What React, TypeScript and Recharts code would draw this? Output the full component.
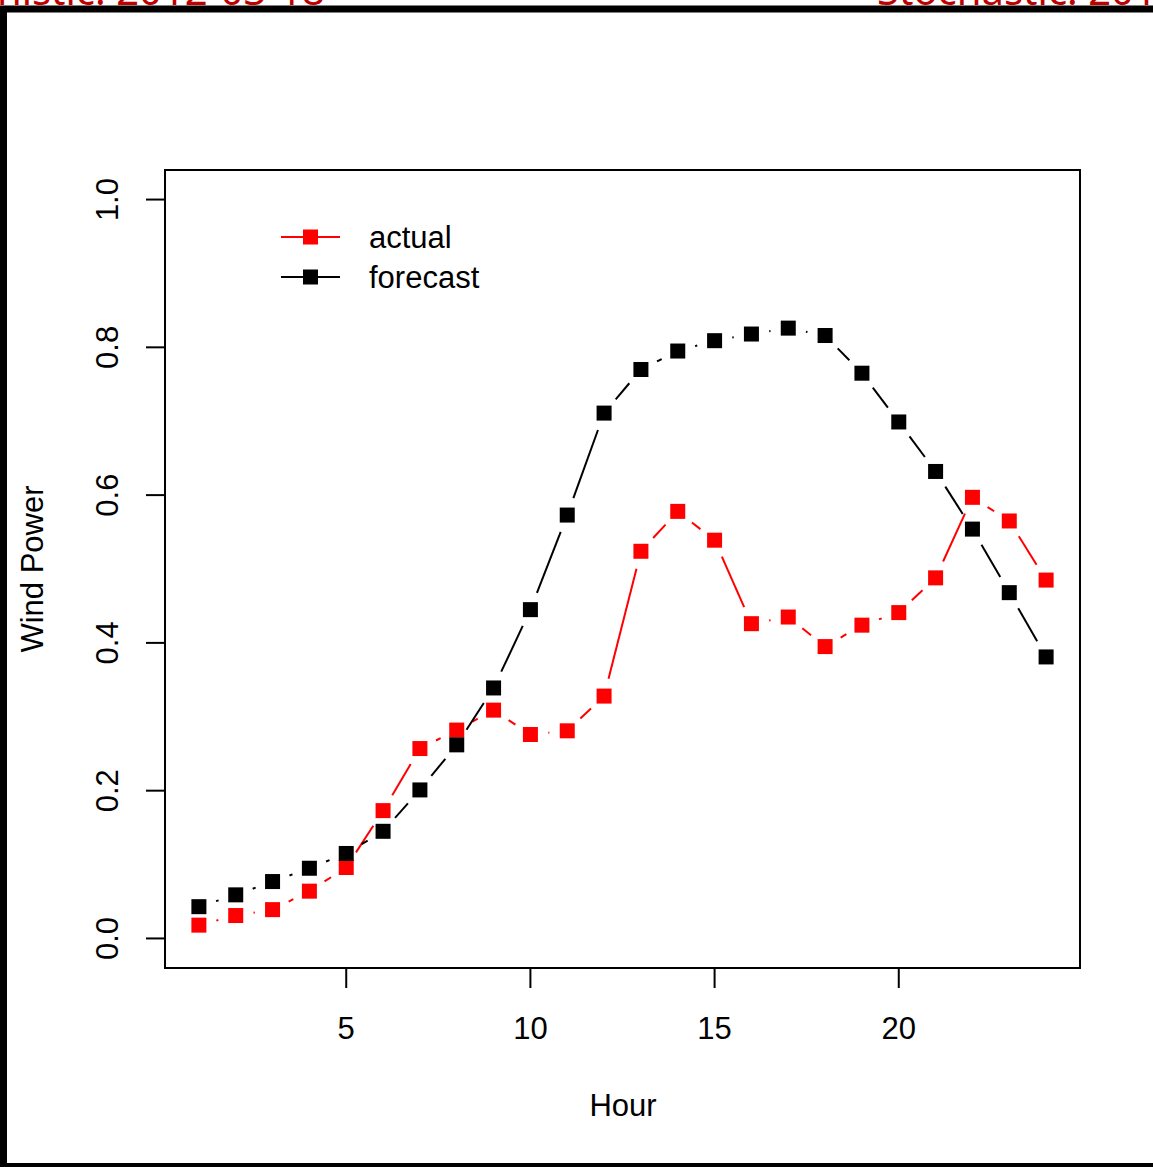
import React from 'react';
import { LineChart, Line, XAxis, YAxis, ReferenceArea } from 'recharts';

const hours = [1, 2, 3, 4, 5, 6, 7, 8, 9, 10, 11, 12, 13, 14, 15, 16, 17, 18, 19, 20, 21, 22, 23, 24];
const actual = [0.018, 0.031, 0.039, 0.064, 0.096, 0.173, 0.257, 0.282, 0.309, 0.276, 0.281, 0.328, 0.524, 0.578, 0.539, 0.426, 0.435, 0.395, 0.424, 0.441, 0.488, 0.597, 0.565, 0.485];
const forecast = [0.043, 0.059, 0.077, 0.095, 0.115, 0.145, 0.201, 0.262, 0.339, 0.445, 0.573, 0.711, 0.770, 0.795, 0.809, 0.818, 0.826, 0.816, 0.765, 0.699, 0.632, 0.554, 0.468, 0.381];
const xTicks = [5, 10, 15, 20];
const yTicks = [0, 0.2, 0.4, 0.6, 0.8, 1.0];
const seriesNames = ['actual', 'forecast'];
const seriesColors = ['#ff0000', '#000000'];
const xDomain = [0.08, 24.92];
const yDomain = [-0.04, 1.04];

const data = hours.map((h, i) => ({ hour: h, actual: actual[i], forecast: forecast[i] }));

const W = 1153;
const H = 1167;
const FONT = '"Liberation Sans", Arial, Helvetica, sans-serif';
const FS = 31;

function makeDot(color: string) {
  return (props: any) => {
    const { cx, cy, index, points } = props;
    const s = 15;
    let seg: any = null;
    if (points && index < points.length - 1) {
      const n = points[index + 1];
      const dx = n.x - cx;
      const dy = n.y - cy;
      const d = Math.hypot(dx, dy);
      const g = 18;
      if (d > 2 * g) {
        seg = (
          <line
            x1={cx + (dx * g) / d}
            y1={cy + (dy * g) / d}
            x2={n.x - (dx * g) / d}
            y2={n.y - (dy * g) / d}
            stroke={color}
            strokeWidth={2}
          />
        );
      }
    }
    return (
      <g key={`dot-${color}-${index}`}>
        {seg}
        <rect x={cx - s / 2} y={cy - s / 2} width={s} height={s} fill={color} />
      </g>
    );
  };
}

const YTick = (props: any) => {
  const { x, y, payload } = props;
  const tx = x - 38;
  return (
    <text
      x={tx}
      y={y}
      transform={`rotate(-90, ${tx}, ${y})`}
      textAnchor="middle"
      dominantBaseline="central"
      fontFamily={FONT}
      fontSize={FS}
      fill="#000"
    >
      {Number(payload.value).toFixed(1)}
    </text>
  );
};

const XTick = (props: any) => {
  const { x, y, payload } = props;
  return (
    <text x={x} y={y + 40} textAnchor="middle" dominantBaseline="central" fontFamily={FONT} fontSize={FS} fill="#000">
      {payload.value}
    </text>
  );
};

export default function App() {
  return (
    <div style={{ position: 'fixed', left: 0, top: 0, width: W, height: H, background: '#fff', overflow: 'hidden' }}>
      <div style={{ position: 'absolute', left: 0, top: 0 }}>
        <LineChart width={W} height={H} data={data} margin={{ top: 170, right: 73, left: 105, bottom: 139 }}>
          <XAxis
            dataKey="hour"
            type="number"
            domain={xDomain}
            ticks={xTicks}
            allowDataOverflow
            axisLine={false}
            tickLine={{ stroke: '#000', strokeWidth: 2 }}
            tickSize={20}
            tickMargin={0}
            height={60}
            tick={<XTick />}
          />
          <YAxis
            type="number"
            domain={yDomain}
            ticks={yTicks}
            allowDataOverflow
            axisLine={false}
            tickLine={{ stroke: '#000', strokeWidth: 2 }}
            tickSize={19}
            tickMargin={0}
            width={60}
            tick={<YTick />}
          />
          <ReferenceArea
            x1={xDomain[0]}
            x2={xDomain[1]}
            y1={yDomain[0]}
            y2={yDomain[1]}
            fill="none"
            fillOpacity={0}
            stroke="#000"
            strokeWidth={2}
            ifOverflow="visible"
          />
          <Line
            dataKey="actual"
            name="actual"
            stroke="none"
            strokeWidth={0}
            dot={makeDot(seriesColors[0])}
            activeDot={false}
            isAnimationActive={false}
          />
          <Line
            dataKey="forecast"
            name="forecast"
            stroke="none"
            strokeWidth={0}
            dot={makeDot(seriesColors[1])}
            activeDot={false}
            isAnimationActive={false}
          />
        </LineChart>
      </div>
      <svg width={240} height={84} style={{ position: 'absolute', left: 275, top: 215 }}>
        {seriesNames.map((name, i) => {
          const cy = 22 + i * 40;
          return (
            <g key={name}>
              <line x1={6} y1={cy} x2={65} y2={cy} stroke={seriesColors[i]} strokeWidth={2} />
              <rect x={35.5 - 7.5} y={cy - 7.5} width={15} height={15} fill={seriesColors[i]} />
              <text x={94} y={cy} dominantBaseline="central" fontFamily={FONT} fontSize={FS} fill="#000">
                {name}
              </text>
            </g>
          );
        })}
      </svg>
      <svg width={W} height={H} style={{ position: 'absolute', left: 0, top: 0, pointerEvents: 'none' }}>
        <text x={325} y={5} textAnchor="end" fontFamily='"Noto Sans", sans-serif' fontSize={40} fill="#c00000">
          Deterministic: 2012-03-18
        </text>
        <text x={877} y={5} textAnchor="start" fontFamily='"Noto Sans", sans-serif' fontSize={40} fill="#c00000">
          Stochastic: 2012-03-18
        </text>
        <rect x={3.5} y={9} width={1300} height={1157.5} fill="none" stroke="#000" strokeWidth={7} />
        <text x={623} y={1105} textAnchor="middle" dominantBaseline="central" fontFamily={FONT} fontSize={FS} fill="#000">
          Hour
        </text>
        <text
          x={32}
          y={569}
          transform="rotate(-90, 32, 569)"
          textAnchor="middle"
          dominantBaseline="central"
          fontFamily={FONT}
          fontSize={FS}
          fill="#000"
        >
          Wind Power
        </text>
      </svg>
    </div>
  );
}
